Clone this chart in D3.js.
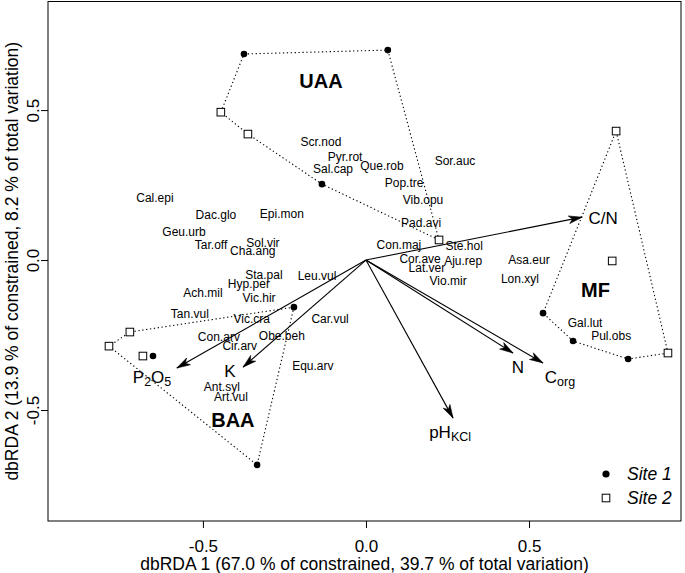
<!DOCTYPE html>
<html>
<head>
<meta charset="utf-8">
<script src="https://cdn.jsdelivr.net/npm/d3@7"></script>
<style>
  body { margin: 0; background: #fff; }
  svg { font-family: "Liberation Sans", Arial, sans-serif; }
</style>
</head>
<body>
<svg id="chart" width="685" height="573"></svg>
<script>
// site scores (dbRDA 1, dbRDA 2)
const siteX = [-0.374, 0.067, -0.135, -0.445, -0.362, 0.224,
               -0.221, -0.653, -0.334, -0.724, -0.788, -0.684,
               0.543, 0.635, 0.804, 0.767, 0.755, 0.926];
const siteY = [0.687, 0.700, 0.253, 0.493, 0.420, 0.067,
               -0.157, -0.320, -0.683, -0.240, -0.287, -0.320,
               -0.177, -0.270, -0.330, 0.430, -0.003, -0.310];
const siteNo = [1, 1, 1, 2, 2, 2, 1, 1, 1, 2, 2, 2, 1, 1, 1, 2, 2, 2];
const siteGroup = ["UAA", "UAA", "UAA", "UAA", "UAA", "UAA",
                   "BAA", "BAA", "BAA", "BAA", "BAA", "BAA",
                   "MF", "MF", "MF", "MF", "MF", "MF"];

// group labels
const groupNames = ["UAA", "BAA", "MF"];
const groupX = [-0.138, -0.408, 0.704];
const groupY = [0.598, -0.532, -0.100];

// species scores
const species = ["Scr.nod", "Pyr.rot", "Sal.cap", "Que.rob", "Sor.auc", "Pop.tre", "Vib.opu", "Pad.avi",
                 "Con.maj", "Ste.hol", "Cor.ave", "Aju.rep", "Lat.ver", "Vio.mir", "Asa.eur", "Lon.xyl",
                 "Gal.lut", "Pul.obs", "Cal.epi", "Dac.glo", "Epi.mon", "Geu.urb", "Tar.off", "Sol.vir",
                 "Cha.ang", "Sta.pal", "Leu.vul", "Hyp.per", "Ach.mil", "Vic.hir", "Tan.vul", "Vic.cra",
                 "Car.vul", "Con.arv", "Obe.beh", "Cir.arv", "Equ.arv", "Ant.syl", "Art.vul"];
const speciesX = [-0.138, -0.064, -0.101, 0.049, 0.273, 0.117, 0.175, 0.169,
                  0.101, 0.301, 0.166, 0.298, 0.187, 0.252, 0.500, 0.472,
                  0.672, 0.752, -0.647, -0.460, -0.258, -0.558, -0.475, -0.316,
                  -0.347, -0.313, -0.150, -0.359, -0.500, -0.328, -0.540, -0.350,
                  -0.110, -0.451, -0.258, -0.387, -0.163, -0.442, -0.414];
const speciesY = [0.393, 0.343, 0.303, 0.313, 0.330, 0.257, 0.200, 0.123,
                  0.050, 0.047, 0.003, -0.003, -0.027, -0.070, 0.000, -0.063,
                  -0.210, -0.253, 0.207, 0.150, 0.153, 0.093, 0.050, 0.057,
                  0.030, -0.050, -0.053, -0.080, -0.110, -0.127, -0.180, -0.197,
                  -0.197, -0.257, -0.253, -0.287, -0.353, -0.423, -0.457];

// environmental vectors
const envNames = ["C/N", "P2O5", "K", "N", "Corg", "pHKCl"];
const envX = [0.663, -0.580, -0.377, 0.451, 0.543, 0.267];
const envY = [0.143, -0.360, -0.357, -0.310, -0.343, -0.527];
const envLabelX = [0.727, -0.656, -0.417, 0.466, 0.595, 0.258];
const envLabelY = [0.140, -0.390, -0.370, -0.357, -0.390, -0.573];
// label parts: [main, sub, main, sub...]
const envLabelParts = [["C/N"], ["P", "2", "O", "5"], ["K"], ["N"], ["C", "org"], ["pH", "KCl"]];

const axisTicks = [-0.5, 0.0, 0.5];
const xTitle = "dbRDA 1 (67.0 % of constrained, 39.7 % of total variation)";
const yTitle = "dbRDA 2 (13.9 % of constrained, 8.2 % of total variation)";
const legendLabels = ["Site 1", "Site 2"];

const svg = d3.select("#chart");
const box = {left: 48, right: 681, top: 1.5, bottom: 521};

const x = d3.scaleLinear().domain([-0.975, 0.966]).range([box.left, box.right]);
const y = d3.scaleLinear().domain([-0.87, 0.862]).range([box.bottom, box.top]);

const fmt = d => d3.format(".1f")(d).replace("−", "-");

// axes
const xAxis = d3.axisBottom(x).tickValues(axisTicks).tickSize(7).tickSizeOuter(0);
const yAxis = d3.axisLeft(y).tickValues(axisTicks).tickSize(7).tickSizeOuter(0);

const gx = svg.append("g").attr("transform", `translate(0,${box.bottom})`).call(xAxis);
gx.select(".domain").remove();
gx.selectAll("text")
    .attr("font-size", 17).attr("font-family", null)
    .attr("y", 25).attr("dy", null).attr("dominant-baseline", "central")
    .text(fmt);

const gy = svg.append("g").attr("transform", `translate(${box.left},0)`).call(yAxis);
gy.select(".domain").remove();
gy.selectAll("text")
    .attr("font-size", 17).attr("font-family", null)
    .text(fmt)
    .attr("text-anchor", "middle")
    .attr("x", null).attr("dy", null)
    .attr("transform", "translate(-15,0) rotate(-90)")
    .attr("dominant-baseline", "central");
svg.selectAll(".tick line").attr("stroke", "#000");

svg.append("rect")
    .attr("x", box.left).attr("y", box.top)
    .attr("width", box.right - box.left).attr("height", box.bottom - box.top)
    .attr("fill", "none").attr("stroke", "#000").attr("stroke-width", 1);

svg.append("text")
    .attr("x", (box.left + box.right) / 2).attr("y", 564)
    .attr("text-anchor", "middle").attr("dominant-baseline", "central")
    .attr("font-size", 17.5).text(xTitle);

svg.append("text")
    .attr("transform", `translate(12,${(box.top + box.bottom) / 2}) rotate(-90)`)
    .attr("text-anchor", "middle").attr("dominant-baseline", "central")
    .attr("font-size", 17.5).text(yTitle);

// hulls
const plot = svg.append("g");
groupNames.forEach(g => {
    const pts = siteX.map((d, i) => [x(d), y(siteY[i])]).filter((d, i) => siteGroup[i] === g);
    const hull = d3.polygonHull(pts);
    plot.append("path")
        .attr("d", "M" + hull.join("L") + "Z")
        .attr("fill", "none").attr("stroke", "#000")
        .attr("stroke-width", 1.1).attr("stroke-dasharray", "1.3,2.6");
});

// arrows
const ox = x(0), oy = y(0);
envX.forEach((d, i) => {
    const tx = x(d), ty = y(envY[i]);
    plot.append("line")
        .attr("x1", ox).attr("y1", oy).attr("x2", tx).attr("y2", ty)
        .attr("stroke", "#000").attr("stroke-width", 1.1);
    const ang = Math.atan2(ty - oy, tx - ox);
    const len = 14, spread = 0.28;
    const p1 = [tx - len * Math.cos(ang - spread), ty - len * Math.sin(ang - spread)];
    const p2 = [tx - len * Math.cos(ang + spread), ty - len * Math.sin(ang + spread)];
    const pn = [tx - len * 0.7 * Math.cos(ang), ty - len * 0.7 * Math.sin(ang)];
    plot.append("path")
        .attr("d", `M${tx},${ty}L${p1}L${pn}L${p2}Z`)
        .attr("fill", "#000").attr("stroke", "#000").attr("stroke-width", 0.6);
});

// env labels with subscripts
envLabelParts.forEach((parts, i) => {
    const t = plot.append("text")
        .attr("x", x(envLabelX[i])).attr("y", y(envLabelY[i]))
        .attr("text-anchor", "middle").attr("dominant-baseline", "central")
        .attr("font-size", 17);
    parts.forEach((p, j) => {
        const sub = j % 2 === 1;
        t.append("tspan")
            .attr("font-size", sub ? 12.5 : 17)
            .attr("dy", j === 0 ? null : (sub ? 5 : -5))
            .text(p);
    });
});

// species labels
plot.selectAll(".sp")
    .data(species)
    .enter()
    .append("text")
        .attr("class", "sp")
        .attr("x", (d, i) => x(speciesX[i]))
        .attr("y", (d, i) => y(speciesY[i]))
        .attr("text-anchor", "middle").attr("dominant-baseline", "central")
        .attr("font-size", 12)
        .text(d => d);

// site points
siteX.forEach((d, i) => {
    const px = x(d), py = y(siteY[i]);
    if (siteNo[i] === 1) {
        plot.append("circle").attr("cx", px).attr("cy", py).attr("r", 3.3).attr("fill", "#000");
    } else {
        plot.append("rect").attr("x", px - 3.8).attr("y", py - 3.8).attr("width", 7.6).attr("height", 7.6)
            .attr("fill", "#fff").attr("stroke", "#000").attr("stroke-width", 1);
    }
});

// group labels
groupNames.forEach((g, i) => {
    plot.append("text")
        .attr("x", x(groupX[i])).attr("y", y(groupY[i]))
        .attr("text-anchor", "middle").attr("dominant-baseline", "central")
        .attr("font-size", 20).attr("font-weight", "bold")
        .text(g);
});

// legend
const legend = svg.append("g").attr("transform", "translate(606,474)");
legendLabels.forEach((l, i) => {
    const row = legend.append("g").attr("transform", `translate(0,${i * 24})`);
    if (i === 0) row.append("circle").attr("r", 3.6).attr("fill", "#000");
    else row.append("rect").attr("x", -3.8).attr("y", -3.8).attr("width", 7.6).attr("height", 7.6)
        .attr("fill", "#fff").attr("stroke", "#000");
    row.append("text").attr("x", 21).attr("dominant-baseline", "central")
        .attr("font-size", 17.5).attr("font-style", "italic").text(l);
});
</script>
</body>
</html>
